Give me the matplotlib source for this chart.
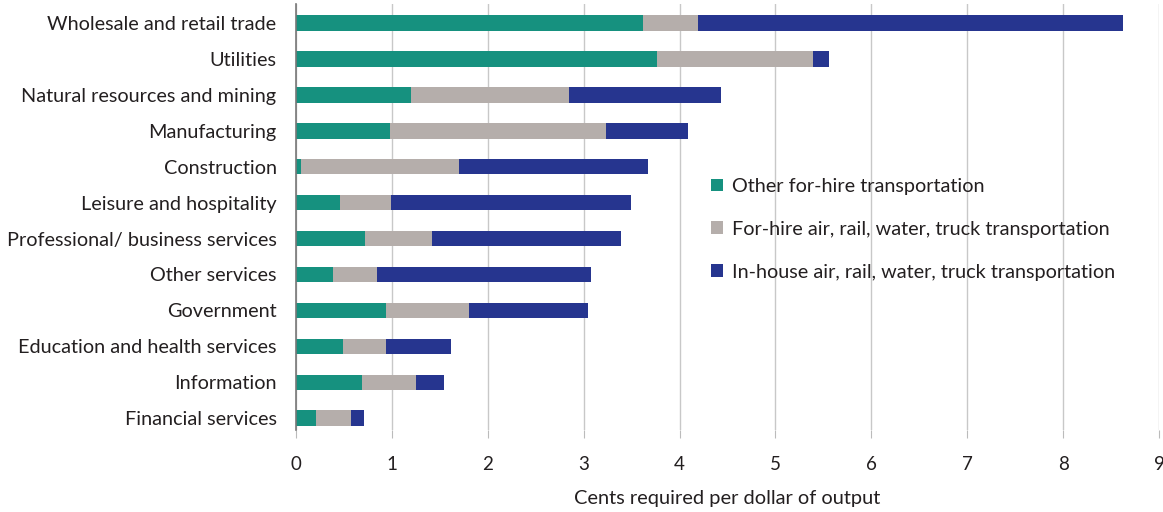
import matplotlib
matplotlib.use("Agg")
import matplotlib.pyplot as plt
import numpy as np

plt.rcParams['font.family'] = ['Lato', 'DejaVu Sans']

categories = ["Wholesale and retail trade", "Utilities", "Natural resources and mining",
              "Manufacturing", "Construction", "Leisure and hospitality",
              "Professional/ business services", "Other services", "Government",
              "Education and health services", "Information", "Financial services"]
other_for_hire = [3.62, 3.76, 1.20, 0.98, 0.05, 0.46, 0.72, 0.39, 0.94, 0.49, 0.69, 0.21]
for_hire_arwt = [0.57, 1.63, 1.65, 2.25, 1.65, 0.53, 0.70, 0.45, 0.86, 0.45, 0.56, 0.36]
in_house_arwt = [4.43, 0.17, 1.58, 0.86, 1.97, 2.50, 1.97, 2.24, 1.25, 0.68, 0.29, 0.14]
series_names = ["Other for-hire transportation",
                "For-hire air, rail, water, truck transportation",
                "In-house air, rail, water, truck transportation"]
colors = ["#16917f", "#b5aeab", "#26358f"]
xticks = list(range(0, 10))

fig = plt.figure(figsize=(11.63, 5.12), dpi=100)
ax = fig.add_axes([296/1163, 1-430/512, (1159-296)/1163, 426/512])

n = len(categories)
y = np.arange(n)[::-1]
left = np.zeros(n)
handles = []
for vals, c, name in zip([other_for_hire, for_hire_arwt, in_house_arwt], colors, series_names):
    h = ax.barh(y, vals, left=left, height=0.43, color=c, label=name, zorder=3)
    handles.append(h)
    left += np.array(vals)

ax.set_xlim(0, 9)
ax.set_ylim(-0.33, 11.53)
ax.set_xticks(xticks)
ax.set_xticklabels([str(t) for t in xticks], fontsize=13.5, color="#231f20")
ax.set_yticks(y)
ax.set_yticklabels(categories, fontsize=14.3, color="#231f20")
ax.tick_params(axis='y', length=0, pad=14)
ax.tick_params(axis='x', length=6, color="#bbbbbb", pad=13)
ax.grid(axis='x', color="#c8c8c8", linewidth=1, zorder=0)
for s in ["top", "right", "bottom"]:
    ax.spines[s].set_visible(False)
ax.spines["left"].set_color("#777777")
ax.spines["left"].set_linewidth(1.2)
ax.spines["left"].set_zorder(4)
ax.set_xlabel("Cents required per dollar of output", fontsize=14.4, color="#231f20", labelpad=12)

leg = fig.legend(handles=handles, labels=series_names, loc="upper left",
                 bbox_to_anchor=(703/1163, 1-170/512), frameon=False, fontsize=14.3,
                 handlelength=0.6, handleheight=0.6, handletextpad=0.45, labelspacing=1.3,
                 borderaxespad=0)
for t in leg.get_texts():
    t.set_color("#231f20")

fig.savefig("out.png", dpi=100)
